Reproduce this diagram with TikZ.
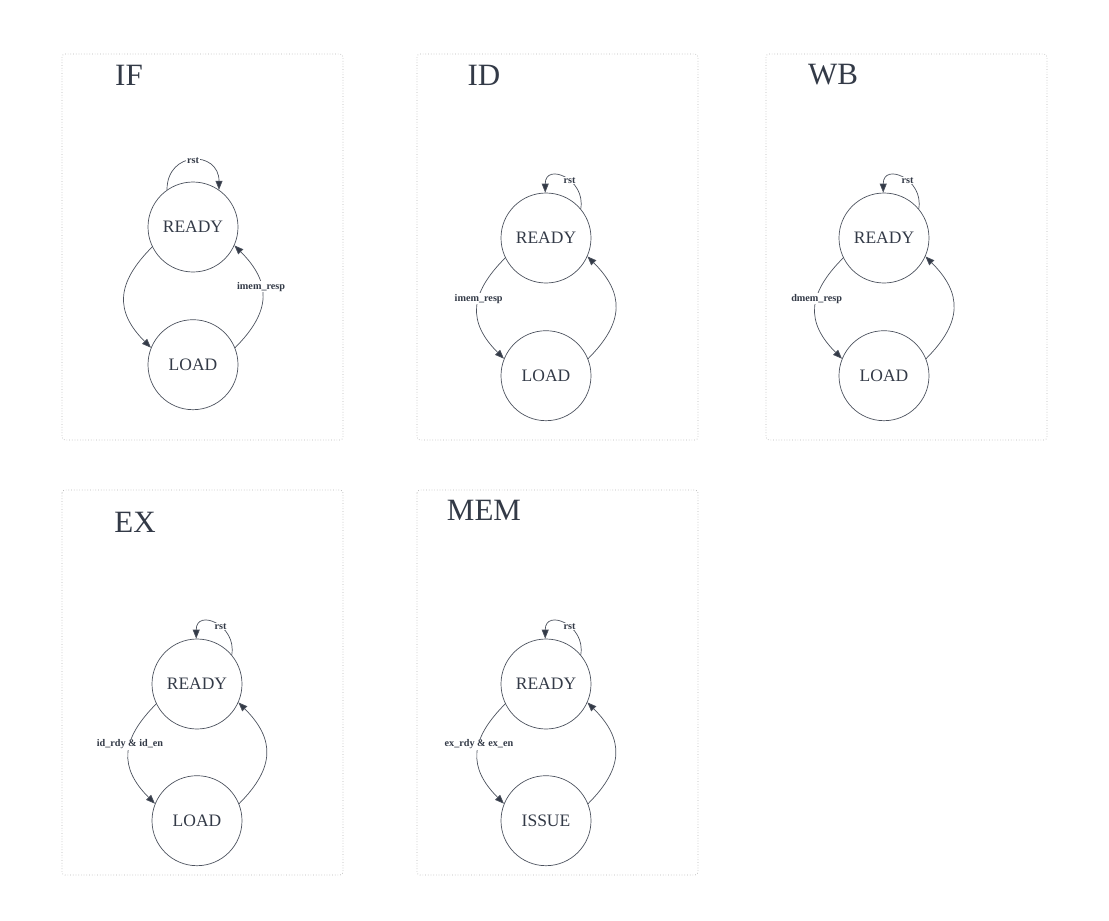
\documentclass[tikz,border=0pt]{standalone}
\usepackage{fontspec}
\setmainfont{Liberation Serif}
\usepackage{xcolor}
\usepackage{tikz}
\usetikzlibrary{arrows.meta,positioning}

\definecolor{inkdark}{HTML}{333A47}
\definecolor{linegray}{HTML}{4C525E}
\definecolor{framegray}{HTML}{B4B4B4}

\tikzset{
  panel/.style={draw=framegray, dotted, line width=0.7pt, rounded corners=3pt},
  stagename/.style={text=inkdark, font=\fontsize{31}{31}\selectfont, inner sep=0pt},
  fsmstate/.style={circle, draw=linegray, line width=0.7pt, minimum size=90pt, inner sep=0pt,
    text=inkdark, font=\fontsize{17.5}{17.5}\selectfont},
  trans/.style={draw=linegray, line width=0.7pt, -{Triangle[length=9pt,width=7pt,fill=inkdark]}},
  cond/.style={fill=white, text=inkdark, inner sep=1pt, font=\fontsize{10.2}{10.2}\selectfont\bfseries}
}

\begin{document}
\begin{tikzpicture}[x=1pt,y=1pt]
        \useasboundingbox (0,0) rectangle (1109,-921);

        % IF stage
        \draw[panel] (62,-54) rectangle (343,-440);
        \node[stagename] (ifname) at (129,-75) {IF};
        \node[fsmstate] (ifready) at (193,-227) {READY};
        \node[fsmstate, below=47pt of ifready] (ifload) {LOAD};
        \draw[trans] (ifready.125) to[out=90,in=90,looseness=1.95] node[cond] {rst} (ifready.55);
        \draw[trans] (ifready.206) to[out=225,in=135,looseness=1.3] (ifload.158);
        \draw[trans] (ifload.22) to[out=45,in=-45,looseness=1.3] node[cond, pos=0.6] {imem\_resp} (ifready.-24);

        % ID stage
        \draw[panel] (417,-54) rectangle (698,-440);
        \node[stagename] (idname) at (484,-75) {ID};
        \node[fsmstate] (idready) at (546,-238) {READY};
        \node[fsmstate, below=47pt of idready] (idload) {LOAD};
        \draw[trans] (idready.40) to[out=80,in=90,looseness=2] node[cond, pos=0.42] {rst} (idready.91);
        \draw[trans] (idready.206) to[out=225,in=135,looseness=1.3] node[cond, pos=0.4] {imem\_resp} (idload.158);
        \draw[trans] (idload.22) to[out=45,in=-45,looseness=1.3] (idready.-24);

        % WB stage
        \draw[panel] (766,-54) rectangle (1047,-440);
        \node[stagename] (wbname) at (833,-75) {WB};
        \node[fsmstate] (wbready) at (884,-238) {READY};
        \node[fsmstate, below=47pt of wbready] (wbload) {LOAD};
        \draw[trans] (wbready.40) to[out=80,in=90,looseness=2] node[cond, pos=0.42] {rst} (wbready.91);
        \draw[trans] (wbready.206) to[out=225,in=135,looseness=1.3] node[cond, pos=0.4] {dmem\_resp} (wbload.158);
        \draw[trans] (wbload.22) to[out=45,in=-45,looseness=1.3] (wbready.-24);

        % EX stage
        \draw[panel] (62,-490) rectangle (343,-875);
        \node[stagename] (exname) at (135,-522) {EX};
        \node[fsmstate] (exready) at (197,-684) {READY};
        \node[fsmstate, below=46pt of exready] (exload) {LOAD};
        \draw[trans] (exready.40) to[out=80,in=90,looseness=2] node[cond, pos=0.42] {rst} (exready.91);
        \draw[trans] (exready.206) to[out=225,in=135,looseness=1.3] node[cond, pos=0.4] {id\_rdy \& id\_en} (exload.158);
        \draw[trans] (exload.22) to[out=45,in=-45,looseness=1.3] (exready.-24);

        % MEM stage
        \draw[panel] (417,-490) rectangle (698,-875);
        \node[stagename] (memname) at (484,-510) {MEM};
        \node[fsmstate] (memready) at (546,-684) {READY};
        \node[fsmstate, below=46pt of memready] (memissue) {ISSUE};
        \draw[trans] (memready.40) to[out=80,in=90,looseness=2] node[cond, pos=0.42] {rst} (memready.91);
        \draw[trans] (memready.206) to[out=225,in=135,looseness=1.3] node[cond, pos=0.4] {ex\_rdy \& ex\_en} (memissue.158);
        \draw[trans] (memissue.22) to[out=45,in=-45,looseness=1.3] (memready.-24);
\end{tikzpicture}
\end{document}
